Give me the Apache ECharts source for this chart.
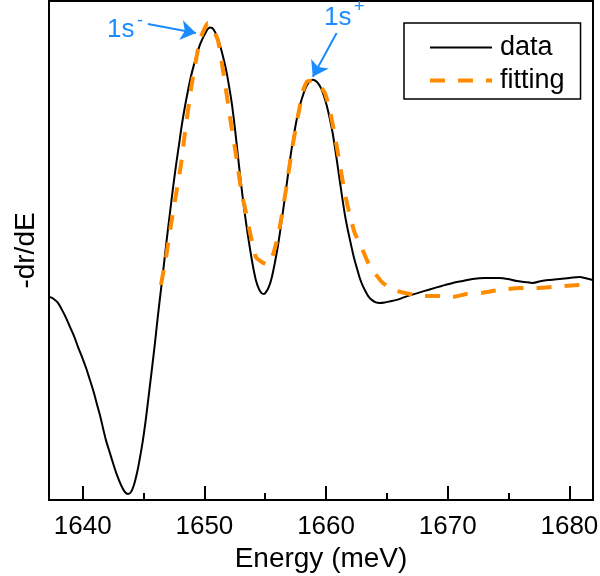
<!DOCTYPE html>
<html>
<head>
<meta charset="utf-8">
<style>
  html, body { margin: 0; padding: 0; background: #ffffff; }
  #chart { width: 600px; height: 576px; }
</style>
<script src="https://cdn.jsdelivr.net/npm/echarts@6/dist/echarts.min.js"></script>
</head>
<body>
<div id="chart"></div>
<script>
// measured curve (energy in meV, -dr/dE in arbitrary units)
const dataEnergy = [
    1637.23, 1637.48, 1637.72, 1637.97, 1638.30, 1638.63, 1638.95, 1639.28, 1639.61, 1639.94,
    1640.27, 1640.60, 1640.93, 1641.17, 1641.42, 1641.67, 1641.91, 1642.24, 1642.49, 1642.73,
    1642.98, 1643.23, 1643.47, 1643.72, 1643.97, 1644.21, 1644.46, 1644.70, 1644.95, 1645.20,
    1645.44, 1645.69, 1645.94, 1646.18, 1646.43, 1646.68, 1646.92, 1647.17, 1647.41, 1647.66,
    1647.91, 1648.15, 1648.40, 1648.65, 1648.89, 1649.14, 1649.39, 1649.63, 1649.88, 1650.13,
    1650.29, 1650.45, 1650.62, 1650.78, 1651.03, 1651.28, 1651.52, 1651.77, 1652.01, 1652.26,
    1652.51, 1652.75, 1653.00, 1653.25, 1653.49, 1653.74, 1653.99, 1654.23, 1654.48, 1654.72,
    1654.89, 1655.05, 1655.30, 1655.55, 1655.79, 1656.04, 1656.29, 1656.53, 1656.78, 1657.02,
    1657.27, 1657.52, 1657.76, 1658.01, 1658.26, 1658.50, 1658.75, 1658.91, 1659.08, 1659.32,
    1659.57, 1659.82, 1660.06, 1660.31, 1660.56, 1660.80, 1661.05, 1661.30, 1661.54, 1661.79,
    1662.04, 1662.28, 1662.53, 1662.77, 1663.02, 1663.27, 1663.51, 1663.76, 1664.09, 1664.42,
    1664.83, 1665.24, 1665.81, 1666.39, 1666.88, 1667.70, 1668.52, 1669.51, 1670.41, 1671.23,
    1672.05, 1673.04, 1674.27, 1674.93, 1675.67, 1676.33, 1676.98, 1677.72, 1678.38, 1679.20,
    1680.02, 1680.84, 1681.42, 1681.91
];
const dataValues = [
    40.7, 40.5, 40.1, 39.5, 38.1, 36.5, 34.7, 32.9, 30.7, 28.7,
    26.5, 24.0, 21.4, 19.2, 17.0, 14.4, 12.0, 9.4, 7.4, 5.6,
    4.0, 2.6, 1.6, 1.2, 1.6, 3.0, 5.4, 8.4, 12.0, 16.4,
    21.2, 26.3, 31.5, 36.9, 42.1, 47.3, 52.5, 57.5, 62.3, 66.9,
    71.1, 75.2, 78.8, 82.0, 84.8, 87.2, 89.4, 91.2, 92.6, 93.8,
    94.4, 94.7, 94.6, 94.2, 93.0, 91.2, 89.0, 86.4, 83.2, 79.4,
    74.5, 69.1, 63.7, 58.7, 54.5, 50.5, 46.9, 44.1, 42.3, 41.4,
    41.3, 41.6, 42.7, 44.7, 47.5, 50.9, 54.9, 59.1, 63.5, 67.9,
    71.9, 75.4, 78.2, 80.4, 82.2, 83.4, 84.1, 84.2, 84.1, 83.6,
    82.6, 81.0, 79.0, 76.4, 73.3, 69.5, 65.3, 61.1, 57.3, 54.1,
    51.3, 48.7, 46.5, 44.5, 42.9, 41.7, 40.7, 40.1, 39.6, 39.5,
    39.6, 39.8, 40.1, 40.6, 41.0, 41.6, 42.2, 42.9, 43.5, 43.9,
    44.3, 44.5, 44.5, 44.3, 43.9, 43.7, 43.5, 43.9, 44.1, 44.3,
    44.5, 44.7, 44.4, 44.1
];

// fitted curve
const fitEnergy = [
    1646.43, 1646.84, 1647.25, 1647.66, 1648.07, 1648.4, 1648.98, 1649.63, 1650.04, 1650.29,
    1650.62, 1651.11, 1651.69, 1652.1, 1652.67, 1653.08, 1653.33, 1653.74, 1654.23, 1654.72,
    1655.22, 1655.63, 1656.04, 1656.37, 1656.7, 1657.19, 1657.68, 1658.09, 1658.42, 1658.83,
    1659.24, 1659.9, 1660.31, 1660.89, 1661.54, 1661.95, 1662.36, 1662.94, 1663.43, 1664.0,
    1664.66, 1665.81, 1666.88, 1668.11, 1669.34, 1670.41, 1671.56, 1672.79, 1674.27, 1675.91,
    1677.31, 1679.61, 1681.91
];
const fitValues = [
    43.1, 48.5, 55.1, 61.1, 67.1, 73.5, 83.6, 92.2, 94.6, 95.6,
    94.6, 92.2, 83.6, 76.8, 68.1, 61.1, 58.7, 53.7, 48.7, 47.7,
    47.1, 49.1, 52.7, 57.1, 62.1, 70.1, 76.8, 81.8, 83.8, 84.0,
    83.8, 81.6, 78.2, 70.7, 61.5, 57.1, 53.5, 50.5, 47.7, 45.5,
    43.5, 41.9, 41.3, 40.9, 40.9, 40.7, 41.3, 41.5, 42.1, 42.5,
    42.5, 42.9, 43.3
];

// annotation arrows [start, tip]
const arrowMinus = [[1645.36, 95.4], [1649.3, 93.6]];
const arrowPlus = [[1660.87, 93.6], [1658.91, 84.8]];

const xMin = 1637.23;
const xMax = 1681.94;
const fontFamily = "'Liberation Sans', Arial, sans-serif";
const blue = "#1a8cff";
const orange = "#ff8c00";

function zip(xs, ys) {
    return xs.map((x, i) => [x, ys[i]]);
}

const chart = echarts.init(document.getElementById("chart"), null, { renderer: "canvas" });

const option = {
    animation: false,
    textStyle: { fontFamily: fontFamily },
    grid: {
        left: 49,
        right: 7,
        top: 1,
        bottom: 76,
        show: true,
        borderColor: "#000",
        borderWidth: 2,
        outerBoundsMode: "none",
    },
    legend: {
        data: [
            { name: "data", lineStyle: { width: 2, color: "#000", type: "solid" } },
            { name: "fitting", lineStyle: { width: 4, color: orange, type: [15, 13] } },
        ],
        orient: "vertical",
        left: 404,
        top: 23,
        padding: [11, 16, 5, 24],
        itemWidth: 62,
        itemHeight: 14,
        itemGap: 6,
        borderColor: "#000",
        borderWidth: 1.5,
        borderRadius: 0,
        itemStyle: { color: "rgba(0,0,0,0)", borderWidth: 0, opacity: 0 },
        textStyle: {
            fontSize: 27,
            lineHeight: 26,
            padding: [0, 0, 0, 3],
            color: "#000",
            fontFamily: fontFamily,
        },
    },
    xAxis: {
        type: "value",
        min: xMin,
        max: xMax,
        splitNumber: 4,
        name: "Energy (meV)",
        nameLocation: "middle",
        nameGap: 44,
        nameTextStyle: { fontSize: 28, color: "#000", fontFamily: fontFamily },
        axisLine: { show: true, onZero: false, lineStyle: { color: "#000", width: 2 } },
        axisTick: { show: true, inside: true, length: 14, lineStyle: { color: "#000", width: 2 } },
        minorTick: { show: true, splitNumber: 2, length: 7, lineStyle: { color: "#000", width: 2 } },
        axisLabel: {
            show: true,
            margin: 14,
            fontSize: 26,
            color: "#000",
            showMinLabel: false,
            showMaxLabel: false,
            fontFamily: fontFamily,
            formatter: (v) => String(Math.round(v)),
        },
        splitLine: { show: false },
    },
    yAxis: {
        type: "value",
        min: 0,
        max: 100,
        name: "-dr/dE",
        nameLocation: "middle",
        nameRotate: 90,
        nameGap: 9,
        nameTextStyle: { fontSize: 28, color: "#000", fontFamily: fontFamily },
        axisLine: { show: true, lineStyle: { color: "#000", width: 2 } },
        axisTick: { show: false },
        axisLabel: { show: false },
        splitLine: { show: false },
    },
    series: [
        {
            name: "data",
            type: "line",
            data: zip(dataEnergy, dataValues),
            smooth: 0.3,
            symbol: "none",
            lineStyle: { color: "#000", width: 2 },
            itemStyle: { color: "#000" },
            z: 2,
        },
        {
            name: "fitting",
            type: "line",
            data: zip(fitEnergy, fitValues),
            smooth: 0.15,
            symbol: "none",
            lineStyle: { color: orange, width: 4, type: [15, 13], cap: "butt" },
            itemStyle: { color: orange },
            z: 3,
        },
        {
            name: "arrows",
            type: "line",
            data: [],
            markLine: {
                silent: true,
                symbol: ["none", "arrow"],
                symbolSize: 15,
                label: { show: false },
                lineStyle: { color: blue, width: 2, type: "solid" },
                data: [
                    [{ coord: arrowMinus[0] }, { coord: arrowMinus[1] }],
                    [{ coord: arrowPlus[0] }, { coord: arrowPlus[1] }],
                ],
            },
            z: 4,
        },
    ],
    graphic: [
        {
            type: "text",
            x: 107,
            y: 17,
            style: { text: "1s", fill: blue, font: "26px " + fontFamily, verticalAlign: "top" },
        },
        {
            type: "text",
            x: 137,
            y: 21,
            style: { text: "-", fill: blue, font: "18px " + fontFamily, verticalAlign: "middle" },
        },
        {
            type: "text",
            x: 324,
            y: 5,
            style: { text: "1s", fill: blue, font: "26px " + fontFamily, verticalAlign: "top" },
        },
        {
            type: "text",
            x: 354,
            y: 7,
            style: { text: "+", fill: blue, font: "18px " + fontFamily, verticalAlign: "middle" },
        },
    ],
};

chart.setOption(option);
</script>
</body>
</html>
